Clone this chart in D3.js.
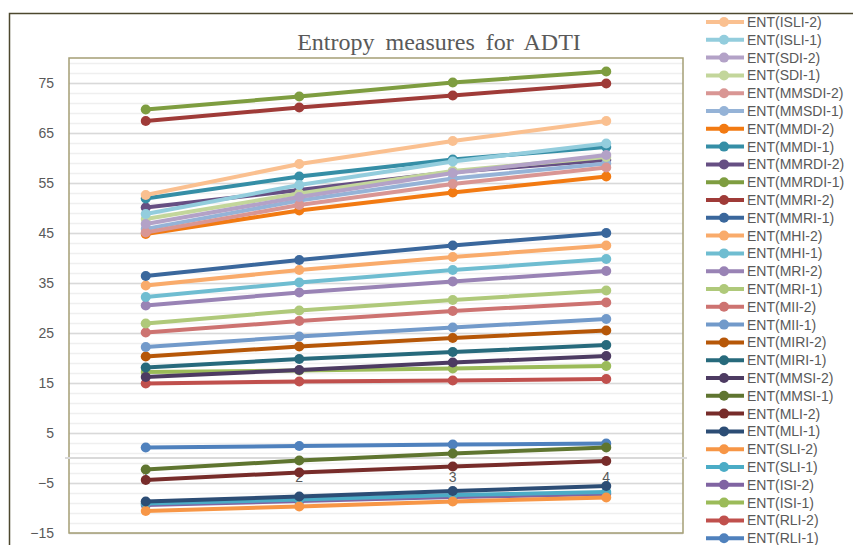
<!DOCTYPE html>
<html>
<head>
<meta charset="utf-8">
<script src="https://cdn.jsdelivr.net/npm/d3@7"></script>
<style>
  html, body { margin: 0; padding: 0; background: #ffffff; }
  svg { display: block; }
</style>
</head>
<body>
<svg id="chart" width="853" height="545"></svg>
<script>
// ---- data ----
const categories = [1, 2, 3, 4];
const yTickValues = [75, 65, 55, 45, 35, 25, 15, 5, -5, -15];

// legend order (top to bottom)
const seriesNames = [
  "ENT(ISLI-2)", "ENT(ISLI-1)", "ENT(SDI-2)", "ENT(SDI-1)", "ENT(MMSDI-2)", "ENT(MMSDI-1)",
  "ENT(MMDI-2)", "ENT(MMDI-1)", "ENT(MMRDI-2)", "ENT(MMRDI-1)", "ENT(MMRI-2)", "ENT(MMRI-1)",
  "ENT(MHI-2)", "ENT(MHI-1)", "ENT(MRI-2)", "ENT(MRI-1)", "ENT(MII-2)", "ENT(MII-1)",
  "ENT(MIRI-2)", "ENT(MIRI-1)", "ENT(MMSI-2)", "ENT(MMSI-1)", "ENT(MLI-2)", "ENT(MLI-1)",
  "ENT(SLI-2)", "ENT(SLI-1)", "ENT(ISI-2)", "ENT(ISI-1)", "ENT(RLI-2)", "ENT(RLI-1)"
];

const ISLI_2  = [52.6, 58.8, 63.4, 67.4];
const ISLI_1  = [48.8, 54.6, 59.3, 62.9];
const SDI_2   = [46.8, 52.2, 57.0, 60.6];
const SDI_1   = [47.8, 52.9, 57.4, 60.2];
const MMSDI_2 = [45.1, 50.6, 54.8, 58.1];
const MMSDI_1 = [45.8, 51.5, 55.9, 58.9];
const MMDI_2  = [44.8, 49.5, 53.1, 56.3];
const MMDI_1  = [51.9, 56.3, 59.7, 62.2];
const MMRDI_2 = [50.1, 53.6, 57.2, 59.6];
const MMRDI_1 = [69.7, 72.3, 75.1, 77.3];
const MMRI_2  = [67.4, 70.1, 72.5, 74.9];
const MMRI_1  = [36.4, 39.6, 42.5, 45.0];
const MHI_2   = [34.5, 37.6, 40.2, 42.5];
const MHI_1   = [32.2, 35.1, 37.6, 39.8];
const MRI_2   = [30.5, 33.1, 35.3, 37.4];
const MRI_1   = [26.9, 29.5, 31.6, 33.5];
const MII_2   = [25.1, 27.4, 29.4, 31.1];
const MII_1   = [22.2, 24.3, 26.1, 27.8];
const MIRI_2  = [20.3, 22.3, 24.0, 25.5];
const MIRI_1  = [18.1, 19.8, 21.2, 22.6];
const MMSI_2  = [16.2, 17.6, 19.1, 20.4];
const MMSI_1  = [-2.3, -0.5, 0.9, 2.1];
const MLI_2   = [-4.4, -2.9, -1.7, -0.6];
const MLI_1   = [-8.7, -7.7, -6.6, -5.6];
const SLI_2   = [-10.6, -9.7, -8.7, -7.9];
const SLI_1   = [-9.1, -8.3, -7.4, -6.8];
const ISI_2   = [-9.4, -8.6, -7.8, -7.2];
const ISI_1   = [17.2, 17.5, 17.9, 18.4];
const RLI_2   = [14.9, 15.3, 15.5, 15.8];
const RLI_1   = [2.1, 2.4, 2.7, 2.9];

const seriesValues = [
  ISLI_2, ISLI_1, SDI_2, SDI_1, MMSDI_2, MMSDI_1, MMDI_2, MMDI_1, MMRDI_2, MMRDI_1,
  MMRI_2, MMRI_1, MHI_2, MHI_1, MRI_2, MRI_1, MII_2, MII_1, MIRI_2, MIRI_1,
  MMSI_2, MMSI_1, MLI_2, MLI_1, SLI_2, SLI_1, ISI_2, ISI_1, RLI_2, RLI_1
];

// ---- styles ----
const palette = [
  "#FAC090", "#93CDDD", "#B3A2C7", "#C3D69B", "#D99694", "#95B3D7",
  "#F27A12", "#358EA6", "#664F83", "#7E9D40", "#9F3B38", "#3A679C",
  "#F9AB6B", "#6FBDD1", "#9983B5", "#AFC97A", "#CD7371", "#729ACA",
  "#B65708", "#276A7C", "#4D3B62", "#5F7530", "#772C2A", "#2C4D75",
  "#F79646", "#4BACC6", "#8064A2", "#9BBB59", "#C0504D", "#4F81BD"
];

const series = seriesNames.map((name, i) => ({ name, values: seriesValues[i], color: palette[i] }));

// ---- layout ----
const svg = d3.select("#chart");
const plot = { left: 69, top: 58, right: 683, bottom: 533 };
const textColor = "#595959";

const x = d3.scaleBand().domain(categories).range([plot.left, plot.right]);
const y = d3.scaleLinear().domain([-15, 80]).range([plot.bottom, plot.top]);

// outer chart border
svg.append("rect")
  .attr("x", 9.5).attr("y", 13.5)
  .attr("width", 900).attr("height", 600)
  .attr("fill", "#ffffff")
  .attr("stroke", "#4d482e").attr("stroke-width", 1.5);

// title
svg.append("text")
  .attr("x", 439).attr("y", 50)
  .attr("text-anchor", "middle")
  .attr("font-family", "'Liberation Serif', 'Times New Roman', serif")
  .attr("font-size", 24)
  .attr("word-spacing", 5)
  .attr("fill", textColor)
  .text("Entropy measures for ADTI");

// minor gridlines (every 2 units)
const minorTicks = d3.range(-15, 80.01, 2);
svg.append("g").selectAll("line").data(minorTicks).enter().append("line")
  .attr("x1", plot.left).attr("x2", plot.right)
  .attr("y1", d => Math.round(y(d)) + 0.5).attr("y2", d => Math.round(y(d)) + 0.5)
  .attr("stroke", "#efefef").attr("stroke-width", 1.5);

// major gridlines
svg.append("g").selectAll("line").data(yTickValues).enter().append("line")
  .attr("x1", plot.left).attr("x2", plot.right)
  .attr("y1", d => Math.round(y(d)) + 0.5).attr("y2", d => Math.round(y(d)) + 0.5)
  .attr("stroke", "#d9d9d9").attr("stroke-width", 1.5);

// plot area border
svg.append("rect")
  .attr("x", plot.left).attr("y", plot.top)
  .attr("width", plot.right - plot.left).attr("height", plot.bottom - plot.top)
  .attr("fill", "none").attr("stroke", "#a59f76").attr("stroke-width", 1.5);

// y axis
const yAxis = d3.axisLeft(y).tickValues(yTickValues).tickSize(0).tickPadding(15);
const gy = svg.append("g").attr("transform", `translate(${plot.left},0)`).call(yAxis);
gy.select(".domain").remove();
gy.selectAll("text")
  .attr("font-family", "'Liberation Sans', Arial, sans-serif")
  .attr("font-size", 14)
  .attr("fill", textColor);

// x axis at zero
const xAxis = d3.axisBottom(x).tickSize(0).tickPadding(14);
const gx = svg.append("g").attr("transform", `translate(0,${y(0)})`).call(xAxis);
gx.select(".domain")
  .attr("stroke", "#d9d9d9").attr("stroke-width", 2)
  .attr("d", `M${plot.left - 4},0H${plot.right + 4}`);
gx.selectAll("text")
  .attr("font-family", "'Liberation Sans', Arial, sans-serif")
  .attr("font-size", 14)
  .attr("fill", textColor);

// series (drawn in Excel order: last legend entry first)
const line = d3.line()
  .x((d, i) => x(categories[i]) + x.bandwidth() / 2)
  .y(d => y(d));

const drawOrder = series.slice().reverse();
const sg = svg.append("g").selectAll("g").data(drawOrder).enter().append("g");
sg.append("path")
  .attr("d", d => line(d.values))
  .attr("fill", "none")
  .attr("stroke", d => d.color)
  .attr("stroke-width", 4)
  .attr("stroke-linejoin", "round");
sg.selectAll("circle").data(d => d.values.map(v => ({ v, color: d.color }))).enter().append("circle")
  .attr("cx", (d, i) => x(categories[i]) + x.bandwidth() / 2)
  .attr("cy", d => y(d.v))
  .attr("r", 5)
  .attr("fill", d => d.color);

// legend
const legendY0 = 22, legendStep = 17.8;
const lg = svg.append("g").selectAll("g").data(series).enter().append("g")
  .attr("transform", (d, i) => `translate(0,${legendY0 + i * legendStep})`);
lg.append("line")
  .attr("x1", 706).attr("x2", 744).attr("y1", 0).attr("y2", 0)
  .attr("stroke", d => d.color).attr("stroke-width", 4);
lg.append("circle")
  .attr("cx", 724).attr("cy", 0).attr("r", 5)
  .attr("fill", d => d.color);
lg.append("text")
  .attr("x", 747).attr("y", 0).attr("dy", "0.35em")
  .attr("font-family", "'Liberation Sans', Arial, sans-serif")
  .attr("font-size", 14)
  .attr("fill", textColor)
  .text(d => d.name);
</script>
</body>
</html>
